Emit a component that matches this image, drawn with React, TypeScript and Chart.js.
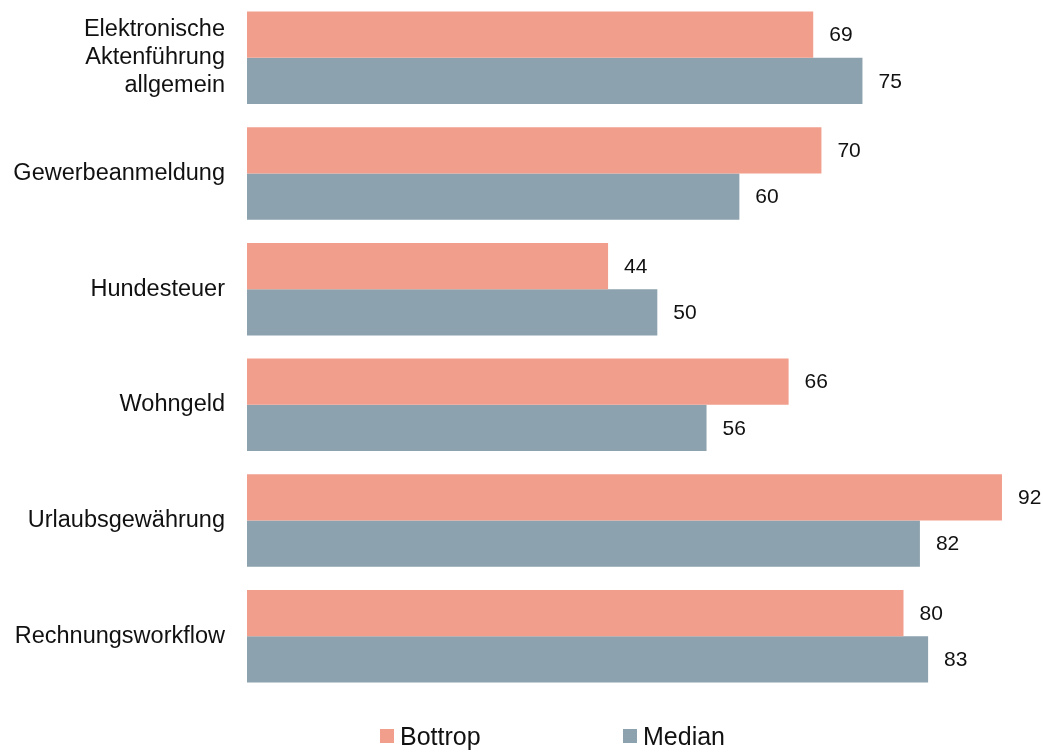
import React, { useEffect, useRef } from "react";
import { Chart, registerables } from "chart.js";

Chart.register(...registerables);

const categories: (string | string[])[] = [
  ["Elektronische", "Aktenführung", "allgemein"],
  "Gewerbeanmeldung",
  "Hundesteuer",
  "Wohngeld",
  "Urlaubsgewährung",
  "Rechnungsworkflow",
];
const bottropValues = [69, 70, 44, 66, 92, 80];
const medianValues = [75, 60, 50, 56, 82, 83];
const seriesNames = ["Bottrop", "Median"];

const PINK = "#F19E8C";
const GREY = "#8CA2AE";
const FONT = "'Liberation Sans', Arial, sans-serif";

const valueLabelPlugin = {
  id: "valueLabels",
  afterDatasetsDraw(chart: any) {
    const ctx = chart.ctx;
    ctx.save();
    ctx.font = `21px ${FONT}`;
    ctx.fillStyle = "#111";
    ctx.textAlign = "left";
    ctx.textBaseline = "middle";
    chart.data.datasets.forEach((ds: any, i: number) => {
      const meta = chart.getDatasetMeta(i);
      meta.data.forEach((el: any, j: number) => {
        ctx.fillText(String(ds.data[j]), el.x + 16, el.y + 1);
      });
    });
    ctx.restore();
  },
};

const legendPlugin = {
  id: "customLegend",
  afterDraw(chart: any) {
    const ctx = chart.ctx;
    const starts = [380, 623];
    const y = 736;
    ctx.save();
    ctx.font = `25px ${FONT}`;
    ctx.textBaseline = "middle";
    ctx.textAlign = "left";
    chart.data.datasets.forEach((ds: any, i: number) => {
      ctx.fillStyle = ds.backgroundColor;
      ctx.fillRect(starts[i], y - 7, 14, 14);
      ctx.fillStyle = "#111";
      ctx.fillText(ds.label, starts[i] + 20, y + 2);
    });
    ctx.restore();
  },
};

export default function App() {
  const ref = useRef<HTMLCanvasElement>(null);
  useEffect(() => {
    if (!ref.current) return;
    const chart = new Chart(ref.current, {
      type: "bar",
      data: {
        labels: categories,
        datasets: [
          { label: seriesNames[0], data: bottropValues, backgroundColor: PINK, borderWidth: 0 },
          { label: seriesNames[1], data: medianValues, backgroundColor: GREY, borderWidth: 0 },
        ],
      },
      options: {
        indexAxis: "y",
        animation: false,
        responsive: true,
        maintainAspectRatio: false,
        layout: { padding: { top: 0, right: 0, bottom: 58, left: 0 } },
        datasets: { bar: { categoryPercentage: 0.8, barPercentage: 1.0 } },
        plugins: {
          legend: { display: false },
          tooltip: { enabled: false },
        },
        scales: {
          x: {
            display: false,
            min: 0,
            max: 97,
          },
          y: {
            grid: { display: false, drawTicks: false },
            border: { display: false },
            ticks: {
              padding: 22,
              color: "#111",
              font: { family: FONT, size: 23.5, lineHeight: 1.19 },
            },
            afterFit(scale: any) {
              scale.width = 247;
              scale.paddingTop = 0;
              scale.paddingBottom = 0;
            },
          },
        },
      },
      plugins: [valueLabelPlugin, legendPlugin],
    });
    return () => chart.destroy();
  }, []);
  return (
    <div style={{ position: "absolute", left: 0, top: 0, width: 1043, height: 752, background: "#fff" }}>
      <canvas ref={ref} />
    </div>
  );
}
